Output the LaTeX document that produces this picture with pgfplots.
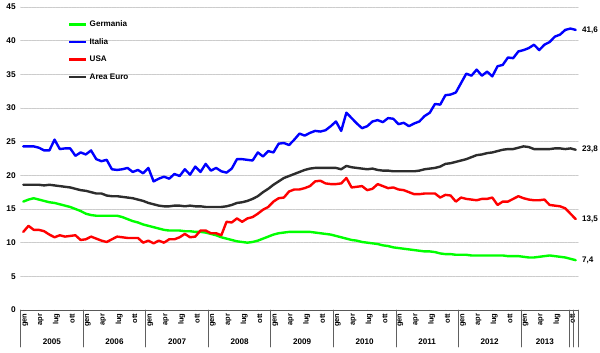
\documentclass[border=0pt]{standalone}
\usepackage{pgfplots}
\usepackage{pgfplotstable}
\pgfplotsset{compat=1.18}
\usepackage{fontspec}
\setmainfont{Liberation Sans}
\pgfplotstableread{
m ger ita usa eur
0 16.1 24.3 11.6 18.6
1 16.4 24.3 12.5 18.6
2 16.6 24.3 11.9 18.6
3 16.4 24.1 11.9 18.6
4 16.2 23.7 11.7 18.5
5 16.0 23.7 11.2 18.6
6 15.9 25.3 10.8 18.5
7 15.7 23.9 11.1 18.4
8 15.5 24.0 10.9 18.3
9 15.3 24.0 11.0 18.2
10 15.0 22.9 11.1 18.0
11 14.7 23.4 10.4 17.8
12 14.3 23.1 10.5 17.7
13 14.1 23.7 10.9 17.5
14 14.0 22.4 10.6 17.3
15 14.0 22.1 10.3 17.3
16 14.0 22.3 10.1 17.0
17 14.0 20.9 10.5 16.9
18 14.0 20.8 10.9 16.9
19 13.8 20.9 10.8 16.8
20 13.5 21.1 10.7 16.7
21 13.2 20.5 10.7 16.6
22 13.0 20.8 10.7 16.4
23 12.7 20.3 10.0 16.2
24 12.5 21.1 10.3 15.9
25 12.3 19.1 9.9 15.7
26 12.1 19.5 10.3 15.5
27 11.9 19.8 10.0 15.4
28 11.8 19.5 10.5 15.4
29 11.8 20.2 10.5 15.5
30 11.8 19.9 10.8 15.5
31 11.7 20.9 11.3 15.4
32 11.7 20.1 10.8 15.5
33 11.6 21.3 10.9 15.4
34 11.6 20.5 11.8 15.4
35 11.5 21.7 11.8 15.3
36 11.3 20.7 11.4 15.3
37 11.1 21.1 11.4 15.3
38 10.8 20.6 11.1 15.3
39 10.6 20.4 13.1 15.4
40 10.4 21.0 13.0 15.6
41 10.2 22.4 13.6 15.9
42 10.1 22.4 13.1 16.0
43 10.0 22.3 13.6 16.2
44 10.1 22.2 13.8 16.5
45 10.3 23.4 14.3 16.9
46 10.6 22.8 14.9 17.5
47 10.9 23.6 15.3 18.0
48 11.2 23.4 16.1 18.6
49 11.4 24.7 16.6 19.1
50 11.5 24.8 16.7 19.6
51 11.6 24.5 17.6 19.9
52 11.6 25.3 17.9 20.2
53 11.6 26.2 17.9 20.5
54 11.6 25.9 18.1 20.8
55 11.6 26.3 18.4 21.0
56 11.5 26.6 19.1 21.1
57 11.4 26.5 19.2 21.1
58 11.3 26.7 18.8 21.1
59 11.2 27.3 18.7 21.1
60 11.0 28.0 18.7 21.1
61 10.8 26.6 18.8 20.9
62 10.6 29.3 19.6 21.4
63 10.4 28.5 18.2 21.2
64 10.3 27.7 18.3 21.1
65 10.1 27.0 18.4 21.0
66 10.0 27.3 17.8 20.9
67 9.9 28.0 18.0 21.0
68 9.8 28.2 18.7 20.8
69 9.6 27.9 18.4 20.7
70 9.5 28.5 18.1 20.7
71 9.3 28.4 18.2 20.6
72 9.2 27.6 17.9 20.6
73 9.1 27.8 17.8 20.6
74 9.0 27.3 17.5 20.6
75 8.9 27.7 17.2 20.6
76 8.8 28.0 17.2 20.7
77 8.7 28.8 17.3 20.9
78 8.7 29.3 17.3 21.0
79 8.6 30.6 17.3 21.1
80 8.4 30.5 16.7 21.3
81 8.3 31.9 17.1 21.7
82 8.3 32.0 17.0 21.8
83 8.2 32.3 16.1 22.0
84 8.2 33.7 16.7 22.2
85 8.2 35.1 16.5 22.4
86 8.1 34.8 16.4 22.7
87 8.1 35.7 16.3 23.0
88 8.1 34.8 16.5 23.1
89 8.1 35.4 16.5 23.3
90 8.1 34.7 16.7 23.4
91 8.1 36.2 15.6 23.6
92 8.1 36.4 16.1 23.8
93 8.0 37.5 16.1 23.9
94 8.0 37.4 16.5 23.9
95 8.0 38.4 16.9 24.1
96 7.9 38.6 16.6 24.3
97 7.8 38.9 16.4 24.2
98 7.8 39.4 16.3 23.9
99 7.9 38.6 16.3 23.9
100 8.0 39.4 16.4 23.9
101 8.1 39.8 15.6 23.9
102 8.0 40.6 15.5 24.0
103 7.9 40.9 15.4 24.0
104 7.8 41.6 15.1 23.9
105 7.6 41.8 14.3 24.0
106 7.4 41.6 13.5 23.8
}\datatable
\definecolor{eurocol}{RGB}{45,45,45}
\begin{document}
\begin{tikzpicture}
\path[use as bounding box] (0,0) rectangle (600pt,353pt);
\begin{axis}[
  at={(20.7pt,43pt)}, anchor=south west,
  scale only axis, width=557.6pt, height=303pt,
  xmin=-0.5, xmax=106.5, ymin=0, ymax=45,
  ytick={0,5,...,45},
  xtick={0,3,...,105},
  xticklabels={gen,apr,lug,ott,gen,apr,lug,ott,gen,apr,lug,ott,gen,apr,lug,ott,gen,apr,lug,ott,gen,apr,lug,ott,gen,apr,lug,ott,gen,apr,lug,ott,gen,apr,lug,ott},
  axis x line*=bottom, axis y line*=left,
  y axis line style={draw=none},
  x axis line style={draw=gray!70!black, line width=0.8pt},
  major tick length=0pt,
  tick align=outside,
  ymajorgrids,
  grid style={gray!40, line width=0.6pt, dash pattern=on 1pt off 0.6pt},
  /pgf/number format/assume math mode=true,
  yticklabel style={font=\fontsize{8.3}{10}\selectfont\bfseries, xshift=-1.5pt},
  xticklabel style={font=\fontsize{7.5}{9}\selectfont\bfseries, rotate=90, anchor=east, yshift=-2pt},
  extra x ticks={-0.5,11.5,23.5,35.5,47.5,59.5,71.5,83.5,95.5,104.7,105.55,106.5},
  extra x tick labels={},
  extra tick style={major tick length=37pt, grid=none, tick style={draw=gray!75!black, line width=0.8pt}},
  clip=false,
  legend style={draw=none, fill=none, at={(0.085,0.962)}, anchor=north west,
    font=\fontsize{8.1}{9.5}\selectfont\bfseries, row sep=6.3pt, inner sep=0pt},
  legend cell align=left,
  legend image code/.code={\draw[#1, line width=2.4pt] (0pt,0pt) -- (17pt,0pt);},
  line join=round, line cap=round,
]
\addplot[green, line width=2.4pt] table[x=m,y=ger]{\datatable};
\addlegendentry{Germania}
\addplot[blue, line width=2.4pt] table[x=m,y=ita]{\datatable};
\addlegendentry{Italia}
\addplot[red, line width=2.4pt] table[x=m,y=usa]{\datatable};
\addlegendentry{USA}
\addplot[eurocol, line width=2.4pt] table[x=m,y=eur]{\datatable};
\addlegendentry{Area Euro}
\begin{scope}[every node/.style={font=\fontsize{8.1}{9.5}\selectfont\bfseries, anchor=west, xshift=3pt}]
\node at (axis cs:106,41.6) {41,6};
\node at (axis cs:106,23.8) {23,8};
\node at (axis cs:106,13.5) {13,5};
\node at (axis cs:106,7.4) {7,4};
\end{scope}
\begin{scope}[every node/.style={font=\fontsize{8.1}{9.5}\selectfont\bfseries, yshift=-31.7pt}]
\node at (axis cs:5.5,0) {2005};
\node at (axis cs:17.5,0) {2006};
\node at (axis cs:29.5,0) {2007};
\node at (axis cs:41.5,0) {2008};
\node at (axis cs:53.5,0) {2009};
\node at (axis cs:65.5,0) {2010};
\node at (axis cs:77.5,0) {2011};
\node at (axis cs:89.5,0) {2012};
\node at (axis cs:100.1,0) {2013};
\end{scope}
\end{axis}
\end{tikzpicture}
\end{document}
